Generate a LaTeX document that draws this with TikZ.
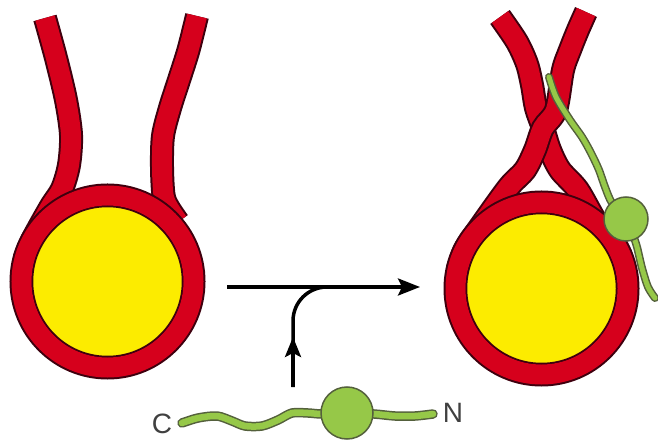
\documentclass[tikz,border=0pt]{standalone}
\usepackage{fontspec}
\setsansfont{Liberation Sans}
\usepackage{xcolor}
\usetikzlibrary{arrows.meta}

\definecolor{memred}{RGB}{214,0,28}
\definecolor{memline}{RGB}{62,0,14}
\definecolor{coreyellow}{RGB}{252,236,0}
\definecolor{protgreen}{RGB}{150,200,72}
\definecolor{protline}{RGB}{84,96,60}
\definecolor{labelgray}{RGB}{64,64,64}

\begin{document}
\begin{tikzpicture}[x=1pt,y=1pt,
	membrane/.style={draw=memred,line width=20pt,
		preaction={draw=memline,line width=24pt}},
	core/.style={fill=coreyellow,draw=memline,line width=1.5pt},
	tether/.style={draw=protgreen,line width=5pt,line cap=round,
		preaction={draw=protline,line width=8pt,line cap=round}},
	chain/.style={draw=protgreen,line width=6.5pt,line cap=round,
		preaction={draw=protline,line width=9.5pt,line cap=round}},
	blob/.style={circle,fill=protgreen,draw=protline,line width=1.5pt,inner sep=0pt},
	flow/.style={line width=3.5pt},
	tag/.style={font=\fontsize{28}{28}\sffamily,text=labelgray,inner sep=0pt}]
	\useasboundingbox (0,0) rectangle (658,439);
	
	% open vesicle: two free membrane arms, then the ring
	\coordinate (ringL) at (107.5,157.5);
	\draw[membrane] plot[smooth] coordinates {(45,421) (56,381) (66,339) (71,304)
		(69,274) (62,250) (50.5,232) (33,200.5) (24.4,179.8)};
	\draw[membrane] plot[smooth] coordinates {(197,423) (188.5,389) (179,359) (170,331)
		(163,303) (162,272) (163.5,244) (168,232) (178,217)};
	\draw[membrane] (ringL) circle[radius=86];
	\filldraw[core] (ringL) circle[radius=75];
	
	% closed vesicle: arms crossed
	\coordinate (ringR) at (541.5,150.5);
	\draw[membrane] plot[smooth] coordinates {(500,422) (517,397) (527,375) (532,354)
		(536,331) (543,311) (550,289) (560,269) (578,249) (596.8,216.4) (611,201) (621,183)};
	\draw[membrane] plot[smooth] coordinates {(586,427) (578,409) (570,389) (563,369)
		(556,329) (543,311) (535,289) (525,269) (508,251) (475.6,205.8) (464.2,188.2) (457.4,168.4)};
	\draw[membrane] (ringR) circle[radius=86];
	\filldraw[core] (ringR) circle[radius=75];
	
	% bound protein on the closed vesicle
	\coordinate (domRc) at (626,220);
	\draw[tether] plot[smooth] coordinates {(549,362) (556,342) (570,319) (582,302)
		(591,286) (599,269) (605,252) (612,236) (626,220)};
	\draw[tether] plot[smooth] coordinates {(626,220) (633,204) (637,192) (642,171)
		(648,152) (655,141)};
	\node[blob,minimum size=44pt] (domR) at (domRc) {};
	
	% free protein, C to N
	\coordinate (domc) at (347,26);
	\draw[chain] plot[smooth] coordinates {(182,16) (198,21) (217,23) (232,18) (245,13)
		(262,13) (278,19) (292,26) (308,26) (322,25) (347,26)};
	\draw[chain] plot[smooth] coordinates {(347,26) (374,25) (395,23) (415,23) (433,25)};
	\node[blob,minimum size=52pt] (dom) at (domc) {};
	\node[tag] (cterm) at (162,15) {C};
	\node[tag] (nterm) at (453,26) {N};
	
	% arrows
	\coordinate (h0) at (227,152);
	\coordinate (h1) at (420,152);
	\coordinate (h2) at (360,152);
	\coordinate (v0) at (293,52);
	\coordinate (v1) at (293,102);
	\draw[flow,-{Stealth[length=22pt,width=17pt,inset=4pt]}] (h0) -- (h1);
	\draw[flow,rounded corners=34pt] (v0) |- (h2);
	\draw[flow,-{Stealth[length=20pt,width=16pt,inset=4pt]}] (v0) -- (v1);
\end{tikzpicture}
\end{document}
